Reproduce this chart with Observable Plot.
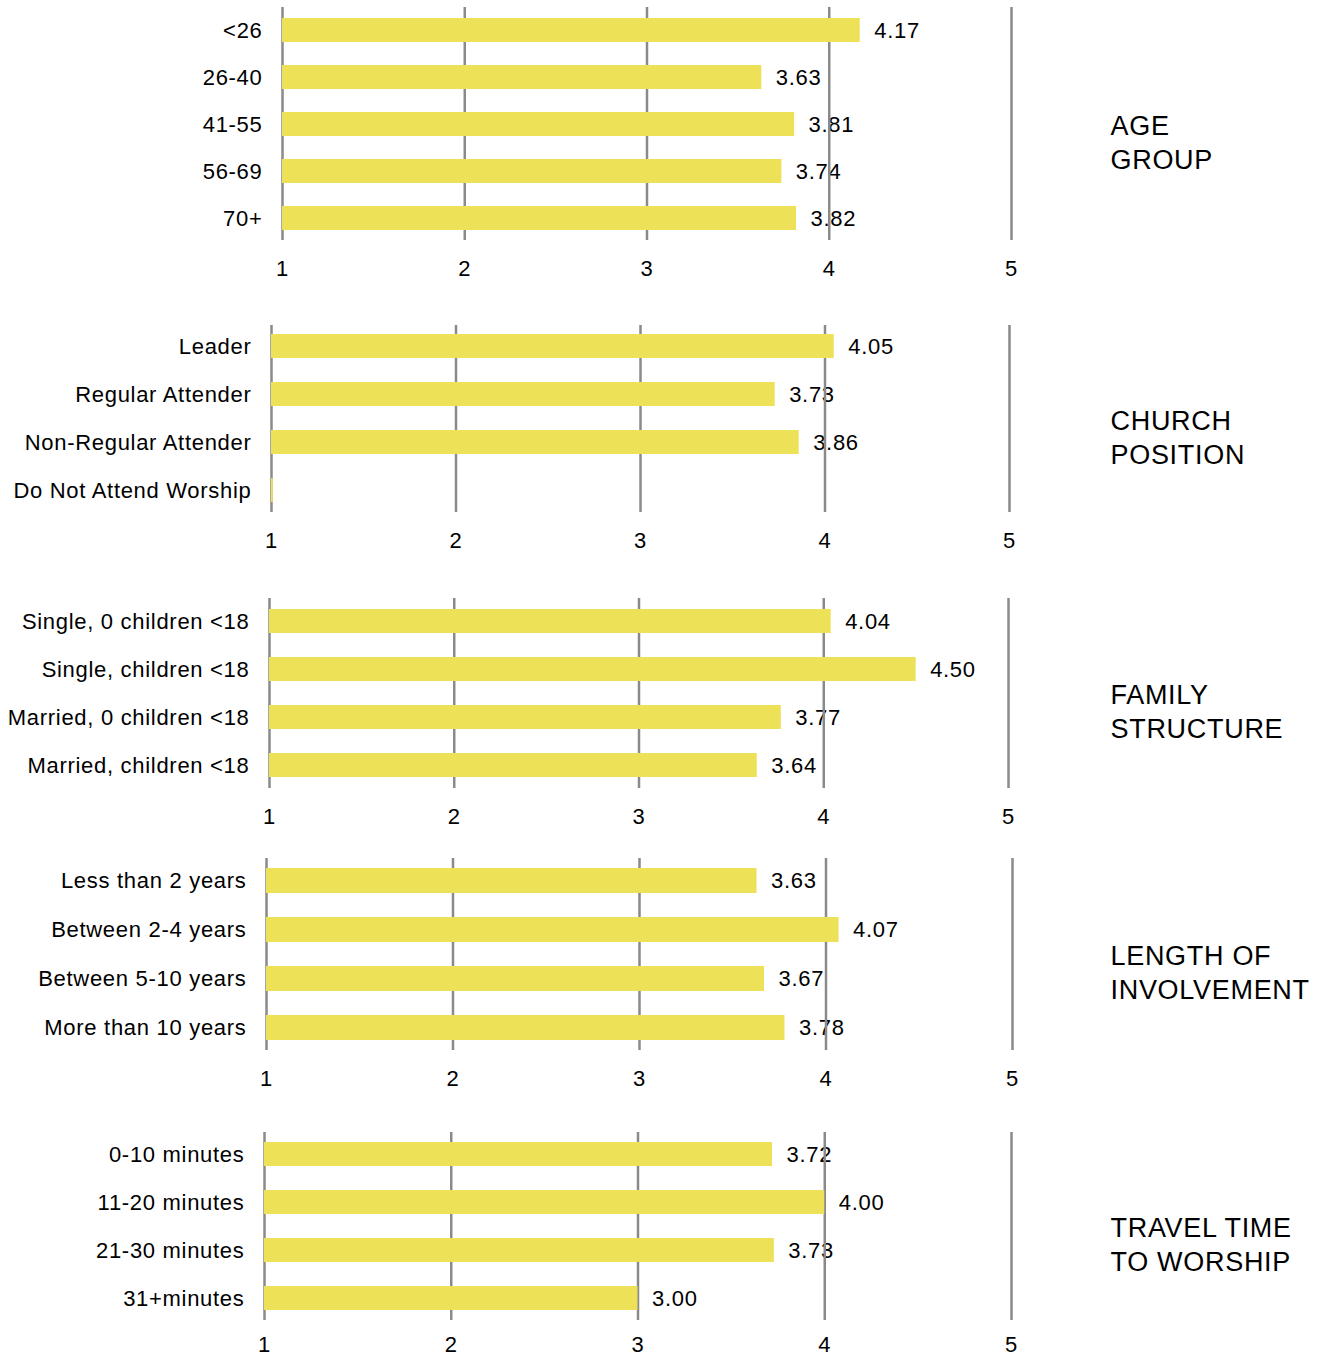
<!DOCTYPE html>
<html>
<head>
<meta charset="utf-8">
<script src="https://cdn.jsdelivr.net/npm/d3@7"></script>
<script src="https://cdn.jsdelivr.net/npm/@observablehq/plot@0.6"></script>
<style>
  html, body { margin: 0; padding: 0; background: #fff; }
  #chart svg { display: block; }
</style>
</head>
<body>
<div id="chart"></div>
<script>
// ---- data ----
const ticks = [1, 2, 3, 4, 5];

const ageTitle = "AGE\nGROUP";
const ageLabels = ["<26", "26-40", "41-55", "56-69", "70+"];
const ageValues = [4.17, 3.63, 3.81, 3.74, 3.82];

const churchTitle = "CHURCH\nPOSITION";
const churchLabels = ["Leader", "Regular Attender", "Non-Regular Attender", "Do Not Attend Worship"];
const churchValues = [4.05, 3.73, 3.86, 1.01];
const churchShown = [true, true, true, false];

const familyTitle = "FAMILY\nSTRUCTURE";
const familyLabels = ["Single, 0 children <18", "Single, children <18", "Married, 0 children <18", "Married, children <18"];
const familyValues = [4.04, 4.50, 3.77, 3.64];

const lengthTitle = "LENGTH OF\nINVOLVEMENT";
const lengthLabels = ["Less than 2 years", "Between 2-4 years", "Between 5-10 years", "More than 10 years"];
const lengthValues = [3.63, 4.07, 3.67, 3.78];

const travelTitle = "TRAVEL TIME\nTO WORSHIP";
const travelLabels = ["0-10 minutes", "11-20 minutes", "21-30 minutes", "31+minutes"];
const travelValues = [3.72, 4.00, 3.73, 3.00];

// ---- layout (separate from data) ----
const W = 1325;
const layout = [
  {height: 295, top: 7,  bottom: 55, left: 282, right: W - 1011, pad: 20},
  {height: 275, top: 30, bottom: 58, left: 271, right: W - 1009, pad: 20},
  {height: 260, top: 28, bottom: 42, left: 269, right: W - 1008, pad: 20},
  {height: 275, top: 28, bottom: 55, left: 266, right: W - 1012, pad: 20},
  {height: 254, top: 27, bottom: 39, left: 264, right: W - 1011, pad: 16}
];
const titleX = 1110;

const panels = [
  {title: ageTitle, labels: ageLabels, values: ageValues},
  {title: churchTitle, labels: churchLabels, values: churchValues, shown: churchShown},
  {title: familyTitle, labels: familyLabels, values: familyValues},
  {title: lengthTitle, labels: lengthLabels, values: lengthValues},
  {title: travelTitle, labels: travelLabels, values: travelValues}
];

const fmt = d3.format(".2f");
const container = document.getElementById("chart");

panels.forEach((p, i) => {
  const L = layout[i];
  const data = p.labels.map((label, j) => ({
    label, value: p.values[j], shown: p.shown ? p.shown[j] : true
  }));
  const chart = Plot.plot({
    width: W,
    height: L.height,
    marginTop: L.top,
    marginBottom: L.bottom,
    marginLeft: L.left,
    marginRight: L.right,
    style: {
      fontFamily: "'Liberation Sans', Arial, sans-serif",
      fontSize: "22px",
      color: "#000",
      letterSpacing: "0.7px",
      background: "#fff"
    },
    x: {domain: [1, 5]},
    y: {domain: p.labels, paddingInner: 0.49, paddingOuter: 0.19},
    marks: [
      Plot.text(data.filter(d => d.shown), {
        x: "value", y: "label", text: d => fmt(d.value),
        textAnchor: "start", dx: 14, fill: "#000"
      }),
      Plot.ruleX(ticks, {stroke: "#8a8a8a", strokeWidth: 2.5}),
      Plot.barX(data, {x1: 1, x2: "value", y: "label", fill: "#ECE157"}),
      Plot.axisX({ticks, tickSize: 0, tickPadding: L.pad, tickFormat: d => d, label: null}),
      Plot.axisY({tickSize: 0, tickPadding: 20, label: null}),
      Plot.text([p.title], {
        text: d => d, frameAnchor: "right", textAnchor: "start",
        dx: titleX - (W - L.right), dy: 17, fontSize: 27, lineHeight: 34 / 27, fill: "#000"
      })
    ]
  });
  container.appendChild(chart);
});
</script>
</body>
</html>
